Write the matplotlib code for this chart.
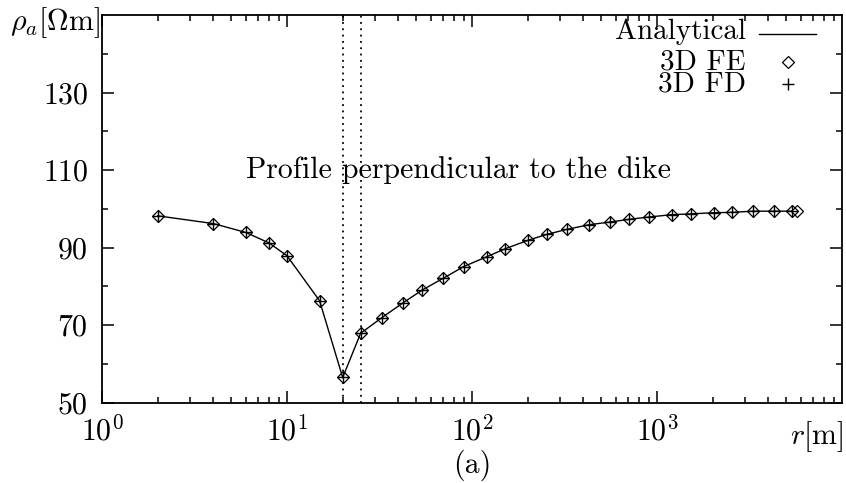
import matplotlib
matplotlib.use('Agg')
import matplotlib.pyplot as plt
from matplotlib.ticker import FixedLocator, NullFormatter, LogLocator

plt.rcParams['font.family'] = ['cmr10', 'DejaVu Serif']
plt.rcParams['mathtext.fontset'] = 'cm'
plt.rcParams['axes.formatter.use_mathtext'] = True

# distances along the profile [m]
r = [2, 4, 6, 8, 10, 15, 20, 25, 32.5, 42.5, 54, 70, 90, 121, 151, 201, 253,
     325, 429, 557, 707, 905, 1205, 1527, 2032, 2543, 3303, 4290, 5370]
# apparent resistivity [Ohm m]
rho_analytical = [98.2, 96.2, 93.9, 91.2, 87.9, 76.3, 56.5, 67.9, 71.9, 75.8,
                  79.1, 82.1, 85.1, 87.7, 89.7, 91.9, 93.4, 94.7, 95.9, 96.6,
                  97.3, 97.9, 98.5, 98.7, 99.0, 99.1, 99.4, 99.4, 99.4]
r_fe = r + [5710]
rho_fe = rho_analytical + [99.4]
r_fd = r
rho_fd = rho_analytical

dike_edges = [20, 25]

fs = 21.5
fs_leg = 21
fig = plt.figure(figsize=(8.46, 4.83), dpi=100)
ax = fig.add_axes([102/846, 1-402.7/483, 740/846, 387.7/483])

ax.plot(r, rho_analytical, color='black', lw=1.0)
ax.plot(r_fe, rho_fe, linestyle='none', marker='D', ms=6, mfc='none',
        mec='black', mew=0.9)
ax.plot(r_fd, rho_fd, linestyle='none', marker='+', ms=8.5, color='black',
        mew=1.0)
for xd in dike_edges:
    ax.axvline(xd, color='black', ls=(0, (1, 2.5)), lw=1.3)

ax.set_xscale('log')
ax.set_xlim(1, 1e4)
ax.set_ylim(50, 150)
ax.xaxis.set_major_locator(FixedLocator([1, 10, 100, 1000]))
ax.xaxis.set_minor_locator(LogLocator(base=10, subs=range(2, 10), numticks=20))
ax.xaxis.set_minor_formatter(NullFormatter())
ax.set_yticks([50, 70, 90, 110, 130])
ax.set_yticks([60, 80, 100, 120, 140], minor=True)

ax.tick_params(which='both', direction='in', top=True, right=True,
               labelsize=fs, width=1.1)
ax.tick_params(which='major', length=8.5)
ax.tick_params(which='minor', length=4.5)
ax.tick_params(axis='x', which='major', pad=9)
ax.tick_params(axis='y', which='major', pad=10)
for s in ax.spines.values():
    s.set_linewidth(1.3)

# legend, drawn by hand with right-aligned labels (baselines in figure px)
def fig_y(py):
    return 1 - py / 483

x_text = 746 / 846
fig.text(x_text, fig_y(39), 'Analytical', ha='right', va='baseline',
         fontsize=fs_leg)
fig.text(x_text, fig_y(70), '3D FE', ha='right', va='baseline',
         fontsize=fs_leg)
fig.text(x_text, fig_y(92), '3D FD', ha='right', va='baseline',
         fontsize=fs_leg)
ax.plot([0.888, 0.965], [0.952, 0.952], transform=ax.transAxes,
        color='black', lw=1.0)
ax.plot([0.927], [0.879], transform=ax.transAxes, marker='D', ms=6,
        mfc='none', mec='black', mew=0.9, linestyle='none')
ax.plot([0.927], [0.822], transform=ax.transAxes, marker='+', ms=8.5,
        color='black', mew=1.0, linestyle='none')

fig.text(459/846, 1-170/483, 'Profile perpendicular to the dike',
         ha='center', va='center', fontsize=fs)
fig.text(100/846, 1-23/483, r'$\rho_a[\Omega\mathrm{m}]$', ha='right',
         va='center', fontsize=fs)
fig.text(843/846, 1-437/483, r'$r[\mathrm{m}]$', ha='right', va='center',
         fontsize=fs)
fig.text(472/846, 1-465/483, '(a)', ha='center', va='center', fontsize=fs)

fig.savefig('out.png', dpi=100)
